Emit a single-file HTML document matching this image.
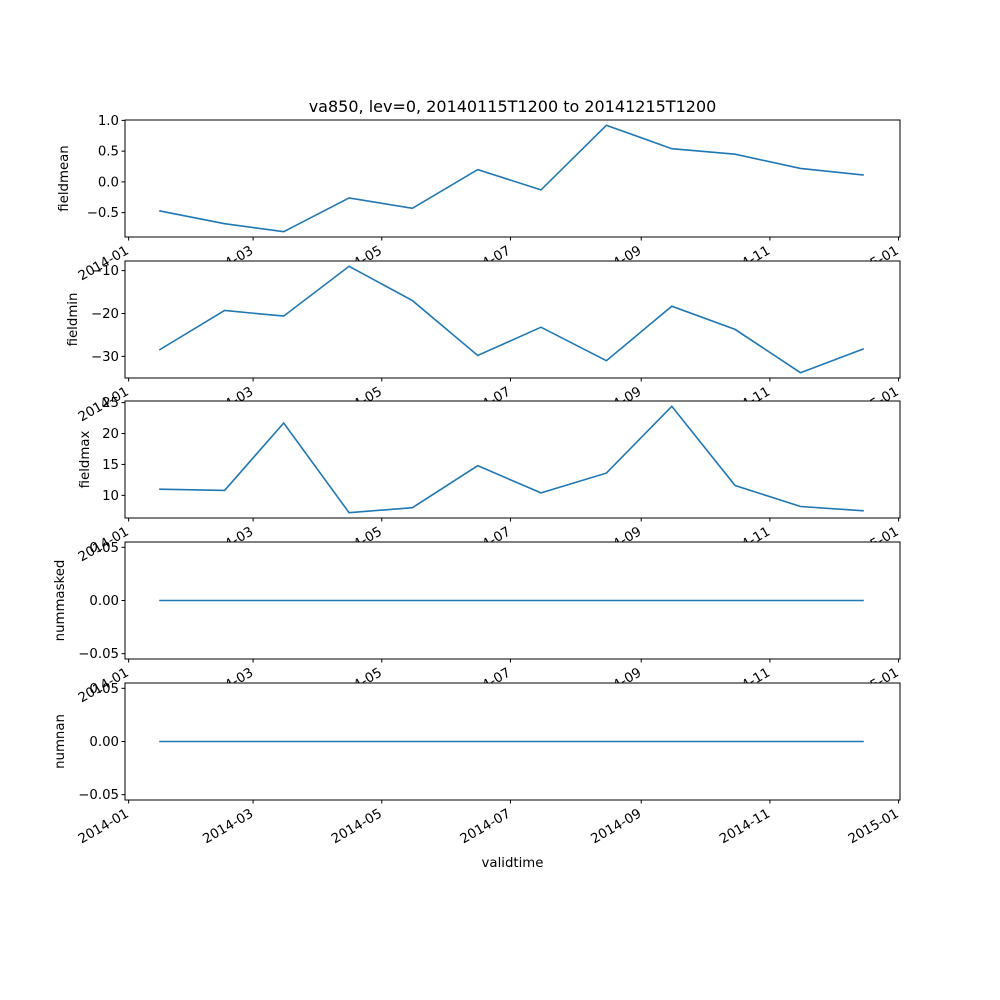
<!DOCTYPE html>
<html><head><meta charset="utf-8"><style>
body{margin:0;background:#fff}
svg{display:block;font-family:"DejaVu Sans","Liberation Sans",sans-serif;font-size:13.3px}
</style></head><body>
<svg id="chart" width="1000" height="1000" xmlns="http://www.w3.org/2000/svg">
<text x="512.5" y="112" text-anchor="middle" font-size="16">va850, lev=0, 20140115T1200 to 20141215T1200</text>
<text x="512.5" y="867" text-anchor="middle">validtime</text>
</svg>
<script>
const months = ["2014-01-15","2014-02-15","2014-03-15","2014-04-15","2014-05-15","2014-06-15","2014-07-15","2014-08-15","2014-09-15","2014-10-15","2014-11-15","2014-12-15"];
const fieldmean = [-0.47,-0.68,-0.81,-0.26,-0.43,0.20,-0.13,0.92,0.54,0.45,0.22,0.11];
const fieldmin = [-28.5,-19.3,-20.6,-9.0,-17.0,-29.8,-23.2,-31.0,-18.3,-23.7,-33.8,-28.2];
const fieldmax = [11.0,10.8,21.7,7.2,8.0,14.8,10.4,13.6,24.4,11.6,8.2,7.5];
const nummasked = [0,0,0,0,0,0,0,0,0,0,0,0];
const numnan = [0,0,0,0,0,0,0,0,0,0,0,0];
const xTickLabels = ["2014-01","2014-03","2014-05","2014-07","2014-09","2014-11","2015-01"];
const yTicksMean = [-0.5,0.0,0.5,1.0];
const yTicksMin = [-30,-20,-10];
const yTicksMax = [10,15,20,25];
const yTicksZero = [-0.05,0.00,0.05];

const NS="http://www.w3.org/2000/svg";
const svg=document.getElementById('chart');
const L=125,R=900;
const t=s=>Date.parse(s+"T12:00:00Z");
const t0=t(months[0]),t1=t(months[months.length-1]);
const xmin=t0-(t1-t0)*0.05,xmax=t1+(t1-t0)*0.05;
const xs=v=>L-1+(v-xmin)/(xmax-xmin)*(R-L);
function el(tag,attrs,parent){const e=document.createElementNS(NS,tag);for(const k in attrs)e.setAttribute(k,attrs[k]);(parent||svg).appendChild(e);return e;}

const panels=[
 {name:"fieldmean",data:fieldmean,ticks:yTicksMean,dec:1,top:120,lab:68},
 {name:"fieldmin",data:fieldmin,ticks:yTicksMin,dec:0,top:261,lab:77},
 {name:"fieldmax",data:fieldmax,ticks:yTicksMax,dec:0,top:401,lab:89},
 {name:"nummasked",data:nummasked,ticks:yTicksZero,dec:2,top:542,lab:64,lim:[-0.055,0.055]},
 {name:"numnan",data:numnan,ticks:yTicksZero,dec:2,top:683,lab:64,lim:[-0.055,0.055]}
];
const H=117;
panels.forEach(p=>{
 const g=el('g',{});
 
 
 let lo,hi;
 if(p.lim){lo=p.lim[0];hi=p.lim[1];}else{const mn=Math.min(...p.data),mx=Math.max(...p.data);lo=mn-(mx-mn)*0.05;hi=mx+(mx-mn)*0.05;}
 const B=p.top+H;
 const ys=v=>B-(v-lo)/(hi-lo)*H;
 const bg=el('rect',{x:L,y:p.top,width:R-L,height:H,fill:'#fff'},g);
 
 
 const pts=p.data.map((v,i)=>xs(t(months[i])).toFixed(1)+','+ys(v).toFixed(1)).join(' ');
 const line=el('polyline',{points:pts,fill:'none',stroke:'#1f77b4','stroke-width':1.6},g);
 
 
 el('rect',{x:L,y:p.top,width:R-L,height:H,fill:'none',stroke:'#000','stroke-width':1},g);
 p.ticks.forEach(v=>{
  const y=ys(v);
  el('line',{x1:L-3.5,x2:L,y1:y,y2:y,stroke:'#000'},g);
  const tx=el('text',{x:L-6,y:y+4.5,'text-anchor':'end'},g);
  tx.textContent=v.toFixed(p.dec).replace('-','\u2212');
  
  
 });
 xTickLabels.forEach(s=>{
  const x=xs(Date.parse(s+"-01T00:00:00Z"));
  el('line',{x1:x,x2:x,y1:B,y2:B+3.5,stroke:'#000'},g);
  const tx=el('text',{x:0,y:0,'text-anchor':'end',transform:`translate(${x+1},${B+16}) rotate(-30)`},g);
  tx.textContent=s;
  
  
 });
 const yl=el('text',{x:0,y:0,'text-anchor':'middle',transform:`translate(${p.lab},${p.top+H/2}) rotate(-90)`},g);
 yl.textContent=p.name;
 
 
});
</script>
</body></html>
